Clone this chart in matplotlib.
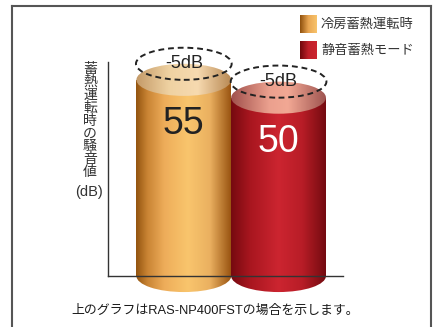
import numpy as np
import matplotlib
matplotlib.use("Agg")
import matplotlib.pyplot as plt
from matplotlib.patches import Ellipse, Polygon
from matplotlib.colors import LinearSegmentedColormap
from matplotlib.lines import Line2D

plt.rcParams['font.family'] = ['Liberation Sans', 'Noto Sans CJK JP']

# データ
modes = ['冷房蓄熱運転時', '静音蓄熱モード']
noise_db = [55, 50]
reduction_labels = ['-5dB', '-5dB']
value_colors = ['#222222', '#ffffff']
caption = '上のグラフはRAS-NP400FSTの場合を示します。'
ylabel_chars = list('蓄熱運転時の騒音値')

# 円柱の胴体と上面のグラデーション
body_maps = [
    LinearSegmentedColormap.from_list('or_body', [(0, '#93540f'), (0.12, '#c98434'), (0.3, '#eead5a'),
                                                  (0.55, '#f9c56d'), (0.78, '#eab060'), (1, '#9a5512')]),
    LinearSegmentedColormap.from_list('rd_body', [(0, '#760a10'), (0.2, '#a8161f'), (0.5, '#cc2530'),
                                                  (0.75, '#b81d27'), (1, '#740b10')]),
]
top_maps = [
    LinearSegmentedColormap.from_list('or_top', [(0, '#c49a68'), (0.35, '#efd2a2'), (0.65, '#f7dab0'),
                                                 (1, '#b98a55')]),
    LinearSegmentedColormap.from_list('rd_top', [(0, '#a0504c'), (0.4, '#eba08e'), (0.6, '#f2a894'),
                                                 (1, '#9e5450')]),
]
swatch_maps = [
    LinearSegmentedColormap.from_list('or_sw', ['#8e4f0c', '#e9a652', '#f8c46c']),
    LinearSegmentedColormap.from_list('rd_sw', ['#6e080c', '#c0202a', '#cc2530']),
]

W, H = 439, 327
fig = plt.figure(figsize=(W / 100, H / 100), dpi=100)
fig.patch.set_facecolor('white')

ax = fig.add_axes([108 / W, 1 - 276 / H, 235 / W, 214 / H])
ax.set_xlim(-0.8, 1.68)
ax.set_ylim(0, 60)
for s in ['top', 'right']:
    ax.spines[s].set_visible(False)
for s in ['left', 'bottom']:
    ax.spines[s].set_color('#333333')
    ax.spines[s].set_linewidth(1.0)
ax.set_xticks([])
ax.set_yticks([])
ax.patch.set_alpha(0)

grad = np.linspace(0, 1, 256).reshape(1, -1)
bar_w = 1.0
ell_h = 9.0  # 楕円の高さ（dB単位）


def clipped_gradient(cmap, x0, x1, y0, y1, clip, z):
    ax.add_patch(clip)
    im = ax.imshow(grad, cmap=cmap, extent=(x0, x1, y0, y1), aspect='auto',
                   interpolation='bilinear', zorder=z)
    im.set_clip_path(clip)
    im.set_clip_box(fig.bbox)
    return im


for i, v in enumerate(noise_db):
    x0, x1 = i - bar_w / 2, i + bar_w / 2
    # 胴体（側面＋底の楕円）
    body = Polygon([(x0, 0), (x1, 0), (x1, v), (x0, v)], closed=True, fill=False, lw=0)
    bottom = Ellipse((i, 0), bar_w, ell_h, fill=False, lw=0)
    clipped_gradient(body_maps[i], x0, x1, -ell_h, v, body, 2 + i * 0.1)
    clipped_gradient(body_maps[i], x0, x1, -ell_h, v, bottom, 2 + i * 0.1)
    # 上面
    top = Ellipse((i, v), bar_w, ell_h, fill=False, lw=0)
    clipped_gradient(top_maps[i], x0, x1, v - ell_h / 2, v + ell_h / 2, top, 3)
    # 低減前のレベル（破線）
    ax.add_patch(Ellipse((i, v + 4.5), bar_w * 1.01, ell_h, fill=False, ls=(0, (3, 2)),
                         lw=1.4, ec='#222222', zorder=5, clip_on=False))
    ax.text(i, v + 4.5, reduction_labels[i], ha='center', va='center', fontsize=13,
            color='#222222', zorder=6, clip_on=False)
    ax.text(i, v - 12.5, str(v), ha='center', va='center', fontsize=27,
            color=value_colors[i], zorder=6)

# 縦書きの軸ラベル
for k, ch in enumerate(ylabel_chars):
    fig.text(90 / W, 1 - (69 + k * 12.9) / H, ch, ha='center', va='center', fontsize=10,
             color='#333333')
fig.text(89 / W, 1 - 192 / H, '(dB)', ha='center', va='center', fontsize=10.5, color='#333333')

# 凡例
for i, name in enumerate(modes):
    y_top = [15, 41][i]
    sax = fig.add_axes([300 / W, 1 - (y_top + 18) / H, 17 / W, 18 / H])
    sax.imshow(grad, cmap=swatch_maps[i], aspect='auto', interpolation='bilinear')
    sax.axis('off')
    fig.text(321 / W, 1 - (y_top + 9.5) / H, name, ha='left', va='center', fontsize=9.5,
             color='#333333')

# 注記
fig.text(215 / W, 1 - 311 / H, caption, ha='center', va='center', fontsize=9.3, color='#1a1a1a')

# 外枠
fr = dict(color='#555555', lw=1.5, transform=fig.transFigure)
fig.add_artist(Line2D([11.5 / W, 11.5 / W], [0, 1 - 5.5 / H], **fr))
fig.add_artist(Line2D([11.5 / W, 431 / W], [1 - 5.5 / H, 1 - 5.5 / H], **fr))
fig.add_artist(Line2D([431 / W, 431 / W], [1 - 5.5 / H, 0], **fr))

fig.savefig('out.png', dpi=100)
